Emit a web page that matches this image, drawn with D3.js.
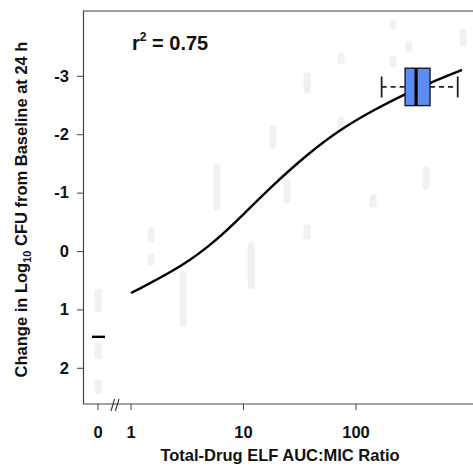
<!DOCTYPE html>
<html>
<head>
<meta charset="utf-8">
<script src="https://cdn.jsdelivr.net/npm/d3@7"></script>
<style>
  body { margin: 0; background: #fff; }
  text { font-family: Arial, "Liberation Sans", sans-serif; font-weight: bold; fill: #111; }
</style>
</head>
<body>
<div id="chart"></div>
<script>
// fitted curve (AUC:MIC ratio, change in log10 CFU)
const curveX = [1, 2.9, 5.8, 9.9, 18.3, 36.6, 72, 142, 273, 455, 875];
const curveY = [0.72, 0.26, -0.19, -0.62, -1.13, -1.65, -2.08, -2.41, -2.69, -2.88, -3.1];

// box plot of AUC:MIC at the top
const boxStats = {min: 169, q1: 273, median: 342, q3: 455, max: 802};
const boxLevel = -2.81;

// control group median (AUC:MIC = 0)
const controlMedian = 1.47;

// faint marks left in the picture (x, low, high)
const faintX = [0, 0, 0, 1.5, 1.5, 2.9, 5.8, 11.7, 18.3, 24.4, 36.7, 36.7, 73.6, 73.6, 142, 213, 213, 296, 419, 893];
const faintLo = [0.7, 1.6, 2.25, -0.36, 0.1, 0.4, -1.45, -0.1, -2.1, -1.17, -0.4, -3.0, -3.35, -2.25, -0.92, -3.9, -3.3, -3.55, -1.39, -3.75];
const faintHi = [1.0, 1.8, 2.4, -0.2, 0.2, 1.25, -0.75, 0.6, -1.8, -0.87, -0.25, -2.75, -3.25, -2.1, -0.8, -3.85, -3.2, -3.45, -1.1, -3.55];

const yTicks = [-3, -2, -1, 0, 1, 2];
const xTicks = [1, 10, 100];

const width = 473, height = 469;
const margin = {top: 11, right: 0, bottom: 65, left: 83};

const svg = d3.select("#chart").append("svg")
    .attr("width", width)
    .attr("height", height);

// log axis for the drug groups, a short linear stub for the control
const x = d3.scaleLog()
    .domain([1, 1000])
    .range([131, 468.5]);
const xCtrl = d3.scaleLinear()
    .domain([0, 1])
    .range([98, 131]);
const xPos = v => v === 0 ? xCtrl(0) : x(v);

const y = d3.scaleLinear()
    .domain([-4.11, 2.62])
    .range([margin.top, height - margin.bottom]);

const plotBottom = height - margin.bottom;

// faint marks
svg.append("g")
    .selectAll("rect")
    .data(faintX.map((d, i) => ({x: d, lo: faintLo[i], hi: faintHi[i]})))
    .enter()
    .append("rect")
    .attr("x", d => xPos(d.x) - 3.5)
    .attr("y", d => y(d.lo) - 3)
    .attr("width", 7)
    .attr("height", d => y(d.hi) - y(d.lo) + 6)
    .attr("rx", 3)
    .attr("fill", "#f1f1f1");

// frame: top line
svg.append("line")
    .attr("x1", margin.left).attr("x2", width)
    .attr("y1", margin.top).attr("y2", margin.top)
    .attr("stroke", "#444").attr("stroke-width", 1.2);

// y axis
const yAxis = svg.append("g")
    .attr("transform", `translate(${margin.left},0)`)
    .call(d3.axisLeft(y).tickValues(yTicks).tickSize(6).tickPadding(8).tickFormat(d3.format("d")));
yAxis.select(".domain").attr("stroke", "#444").attr("stroke-width", 1.2)
    .attr("d", `M0.5,${margin.top}V${plotBottom}`);
yAxis.selectAll(".tick line").attr("stroke", "#444");
yAxis.selectAll(".tick text")
    .style("font-size", "16.5px")
    .text(d => d < 0 ? "-" + Math.abs(d) : d);

// x axis
const xAxis = svg.append("g")
    .attr("transform", `translate(0,${plotBottom})`);
xAxis.append("line")
    .attr("x1", margin.left).attr("x2", width)
    .attr("y1", 0).attr("y2", 0)
    .attr("stroke", "#444").attr("stroke-width", 1.2);
const xTickData = [{v: 0, p: xCtrl(0)}].concat(xTicks.map(v => ({v, p: x(v)})));
xAxis.selectAll(".xt")
    .data(xTickData)
    .enter()
    .append("line")
    .attr("x1", d => d.p).attr("x2", d => d.p)
    .attr("y1", 0).attr("y2", 6)
    .attr("stroke", "#444");
xAxis.selectAll(".xl")
    .data(xTickData)
    .enter()
    .append("text")
    .attr("x", d => d.p)
    .attr("y", 34)
    .attr("text-anchor", "middle")
    .style("font-size", "16.5px")
    .text(d => d.v);

// axis break marks
const breakX = (xCtrl(0) + x(1)) / 2 + 0.5;
[-2.2, 2.2].forEach(off => {
    xAxis.append("line")
        .attr("x1", breakX + off - 1.8).attr("x2", breakX + off + 1.8)
        .attr("y1", 7).attr("y2", -5)
        .attr("stroke", "#333").attr("stroke-width", 1.1);
});

// axis titles
svg.append("text")
    .attr("x", 280)
    .attr("y", 461)
    .attr("text-anchor", "middle")
    .style("font-size", "16.5px")
    .text("Total-Drug ELF AUC:MIC Ratio");

const yTitle = svg.append("text")
    .attr("transform", `translate(27,${(margin.top + plotBottom) / 2 + 2}) rotate(-90)`)
    .attr("text-anchor", "middle")
    .style("font-size", "16.5px");
yTitle.append("tspan").text("Change in Log");
yTitle.append("tspan").attr("dy", 4).style("font-size", "11px").text("10");
yTitle.append("tspan").attr("dy", -4).text(" CFU from Baseline at 24 h");

// r squared
const r2 = svg.append("text")
    .attr("x", 132)
    .attr("y", 50)
    .style("font-size", "20px");
r2.append("tspan").text("r");
r2.append("tspan").attr("dy", -9).style("font-size", "12px").text("2");
r2.append("tspan").attr("dy", 9).text(" = 0.75");

// fitted curve
const line = d3.line()
    .x(d => x(d[0]))
    .y(d => y(d[1]))
    .curve(d3.curveBasis);
svg.append("path")
    .datum(curveX.map((d, i) => [d, curveY[i]]))
    .attr("d", line)
    .attr("fill", "none")
    .attr("stroke", "#000")
    .attr("stroke-width", 2.4);

// control median
svg.append("line")
    .attr("x1", xCtrl(0) - 6).attr("x2", xCtrl(0) + 7)
    .attr("y1", y(controlMedian)).attr("y2", y(controlMedian))
    .attr("stroke", "#000").attr("stroke-width", 2.4);

// box plot
const by = y(boxLevel);
const half = 18.7;
const capHalf = 10.5;
const box = svg.append("g");
box.append("line")
    .attr("x1", x(boxStats.min)).attr("x2", x(boxStats.q1))
    .attr("y1", by).attr("y2", by)
    .attr("stroke", "#222").attr("stroke-width", 1.8)
    .attr("stroke-dasharray", "5,4");
box.append("line")
    .attr("x1", x(boxStats.q3)).attr("x2", x(boxStats.max))
    .attr("y1", by).attr("y2", by)
    .attr("stroke", "#222").attr("stroke-width", 1.8)
    .attr("stroke-dasharray", "5,4");
[boxStats.min, boxStats.max].forEach(v => {
    box.append("line")
        .attr("x1", x(v)).attr("x2", x(v))
        .attr("y1", by - capHalf).attr("y2", by + capHalf)
        .attr("stroke", "#222").attr("stroke-width", 1.8);
});
box.append("rect")
    .attr("x", x(boxStats.q1))
    .attr("y", by - half)
    .attr("width", x(boxStats.q3) - x(boxStats.q1))
    .attr("height", 2 * half)
    .attr("fill", "#5b8ef0")
    .attr("stroke", "#1a1a2a")
    .attr("stroke-width", 1.4);
box.append("line")
    .attr("x1", x(boxStats.median)).attr("x2", x(boxStats.median))
    .attr("y1", by - half).attr("y2", by + half)
    .attr("stroke", "#000").attr("stroke-width", 3.2);
</script>
</body>
</html>
